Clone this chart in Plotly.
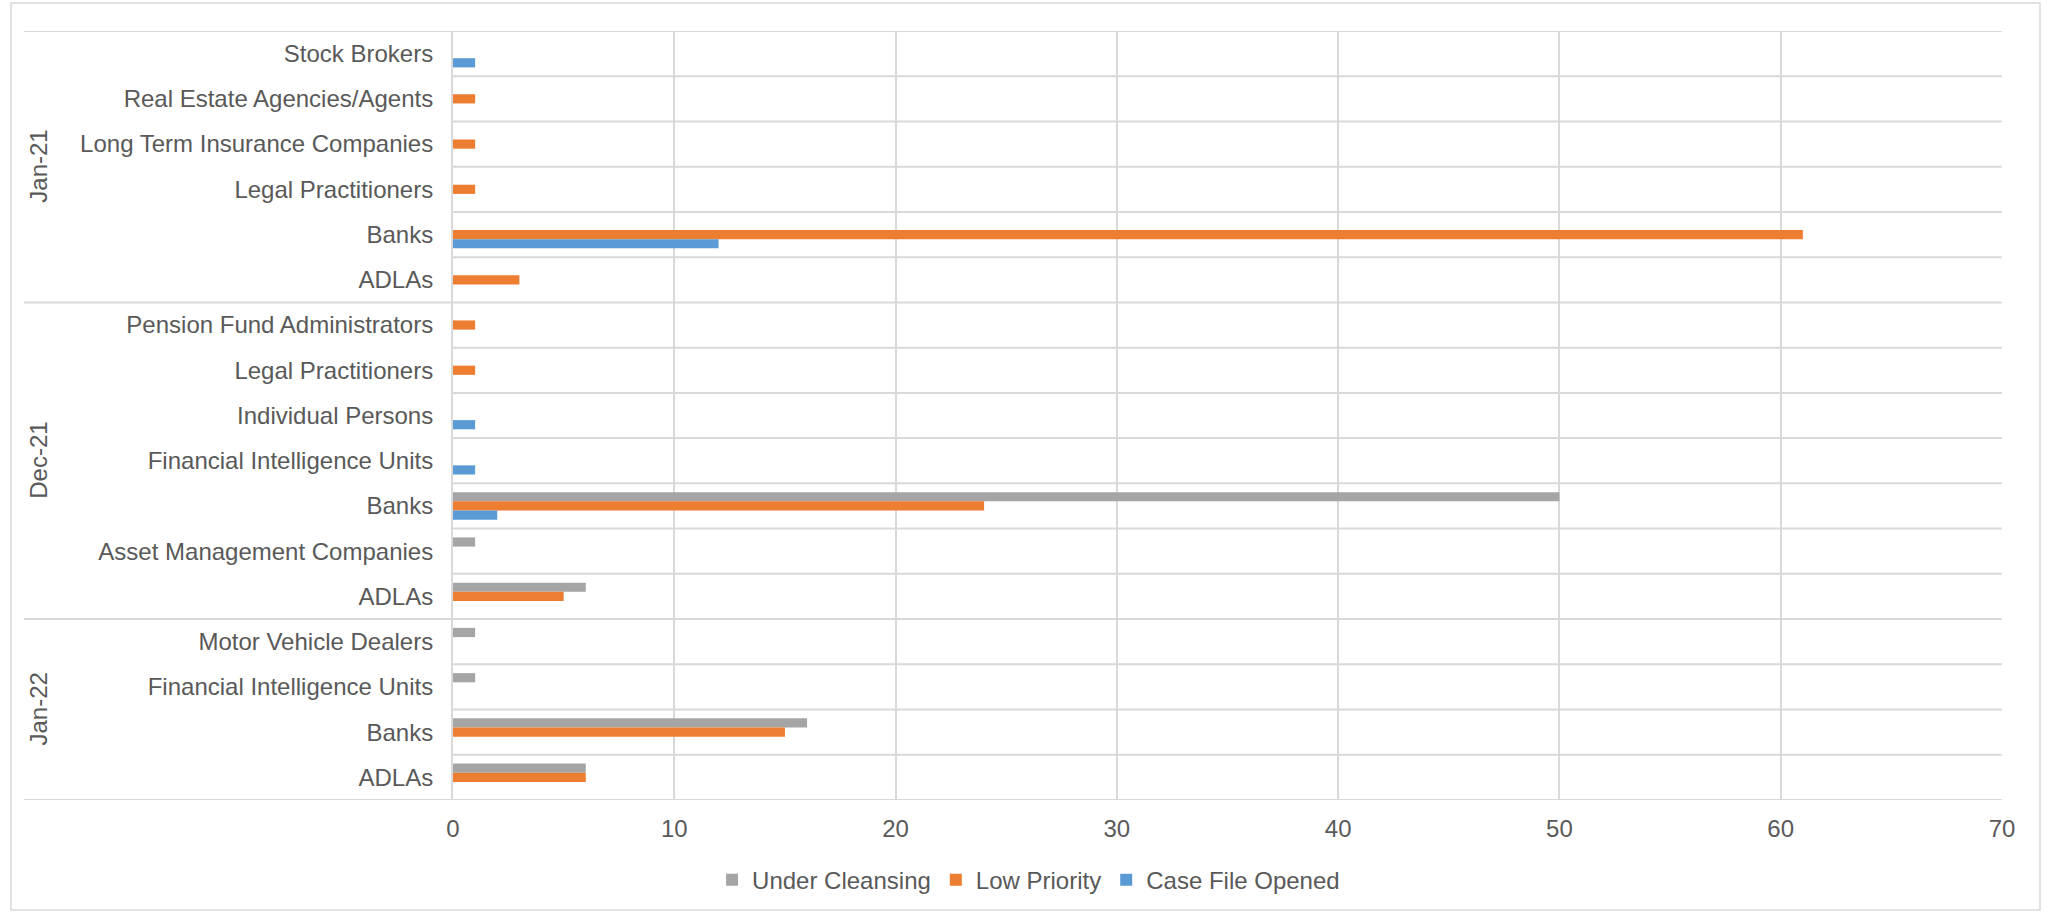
import plotly.graph_objects as go

# ---- data -------------------------------------------------------------
periods = ["Jan-21", "Dec-21", "Jan-22"]

sectors_jan21 = ["Stock Brokers", "Real Estate Agencies/Agents",
                 "Long Term Insurance Companies", "Legal Practitioners",
                 "Banks", "ADLAs"]
sectors_dec21 = ["Pension Fund Administrators", "Legal Practitioners",
                 "Individual Persons", "Financial Intelligence Units",
                 "Banks", "Asset Management Companies", "ADLAs"]
sectors_jan22 = ["Motor Vehicle Dealers", "Financial Intelligence Units",
                 "Banks", "ADLAs"]

under_cleansing_jan21 = [None, None, None, None, None, None]
under_cleansing_dec21 = [None, None, None, None, 50, 1, 6]
under_cleansing_jan22 = [1, 1, 16, 6]

low_priority_jan21 = [None, 1, 1, 1, 61, 3]
low_priority_dec21 = [1, 1, None, None, 24, None, 5]
low_priority_jan22 = [None, None, 15, 6]

case_file_opened_jan21 = [1, None, None, None, 12, None]
case_file_opened_dec21 = [None, None, 1, 1, 2, None, None]
case_file_opened_jan22 = [None, None, None, None]

x_ticks = [0, 10, 20, 30, 40, 50, 60, 70]

# ---- assemble rows (top to bottom) -------------------------------------
groups = [sectors_jan21, sectors_dec21, sectors_jan22]
labels = sectors_jan21 + sectors_dec21 + sectors_jan22
rows = list(range(len(labels)))

series = [
    ("Under Cleansing", "#A5A5A5",
     under_cleansing_jan21 + under_cleansing_dec21 + under_cleansing_jan22),
    ("Low Priority", "#ED7D31",
     low_priority_jan21 + low_priority_dec21 + low_priority_jan22),
    ("Case File Opened", "#5B9BD5",
     case_file_opened_jan21 + case_file_opened_dec21 + case_file_opened_jan22),
]

TEXT = "#595959"
GRID = "#D9D9D9"
FONT = "Liberation Sans, Arial, sans-serif"

W, H = 2053, 913
ML, MR, MT, MB = 453, 51, 31, 113
PW = W - ML - MR
PH = H - MT - MB

fig = go.Figure()
for name, color, vals in series:
    fig.add_trace(go.Bar(
        y=rows, x=vals, name=name, orientation="h",
        marker=dict(color=color, line=dict(width=0)),
    ))


def px_to_paper_x(px):
    return (px - ML) / PW


def px_to_paper_y(py):
    return (H - MB - py) / PH


shapes = []
# row separators; period separators reach into the label area
starts = [0]
for g in groups:
    starts.append(starts[-1] + len(g))
for k in range(len(labels) + 1):
    x0 = px_to_paper_x(24) if k in starts else 0
    shapes.append(dict(type="line", xref="paper", yref="y",
                       x0=x0, x1=1, y0=k - 0.5, y1=k - 0.5,
                       line=dict(color=GRID, width=2), layer="below"))

# chart frame
shapes.append(dict(type="rect", xref="paper", yref="paper",
                   x0=px_to_paper_x(11), x1=px_to_paper_x(2040),
                   y0=px_to_paper_y(910), y1=px_to_paper_y(3),
                   line=dict(color=GRID, width=1.5), layer="below"))

annotations = []
for period, a, b in zip(periods, starts[:-1], starts[1:]):
    annotations.append(dict(
        text=period, xref="paper", yref="y",
        x=px_to_paper_x(39), y=(a + b - 1) / 2,
        xanchor="center", yanchor="middle", textangle=-90,
        showarrow=False, font=dict(size=24, color=TEXT, family=FONT),
    ))

fig.update_layout(
    width=W, height=H,
    margin=dict(l=ML, r=MR, t=MT, b=MB),
    paper_bgcolor="white", plot_bgcolor="white",
    barmode="group", bargap=0.39, bargroupgap=0,
    font=dict(family=FONT, size=24, color=TEXT),
    shapes=shapes, annotations=annotations,
    legend=dict(orientation="h", xref="container", yref="container",
                x=0.501, xanchor="center", y=0.036, yanchor="middle",
                font=dict(size=24, color=TEXT), itemclick=False),
    xaxis=dict(range=[0, 70], tickvals=x_ticks, showgrid=True,
               gridcolor=GRID, gridwidth=2, zeroline=False, ticks="",
               ticklabelstandoff=12, tickfont=dict(size=24, color=TEXT)),
    yaxis=dict(range=[len(labels) - 0.5, -0.5], tickvals=rows,
               ticktext=labels, showgrid=False, zeroline=False, ticks="",
               showline=True, linecolor=GRID, linewidth=2,
               ticklabelstandoff=13, tickfont=dict(size=24, color=TEXT)),
)

fig.write_html("out.html")
